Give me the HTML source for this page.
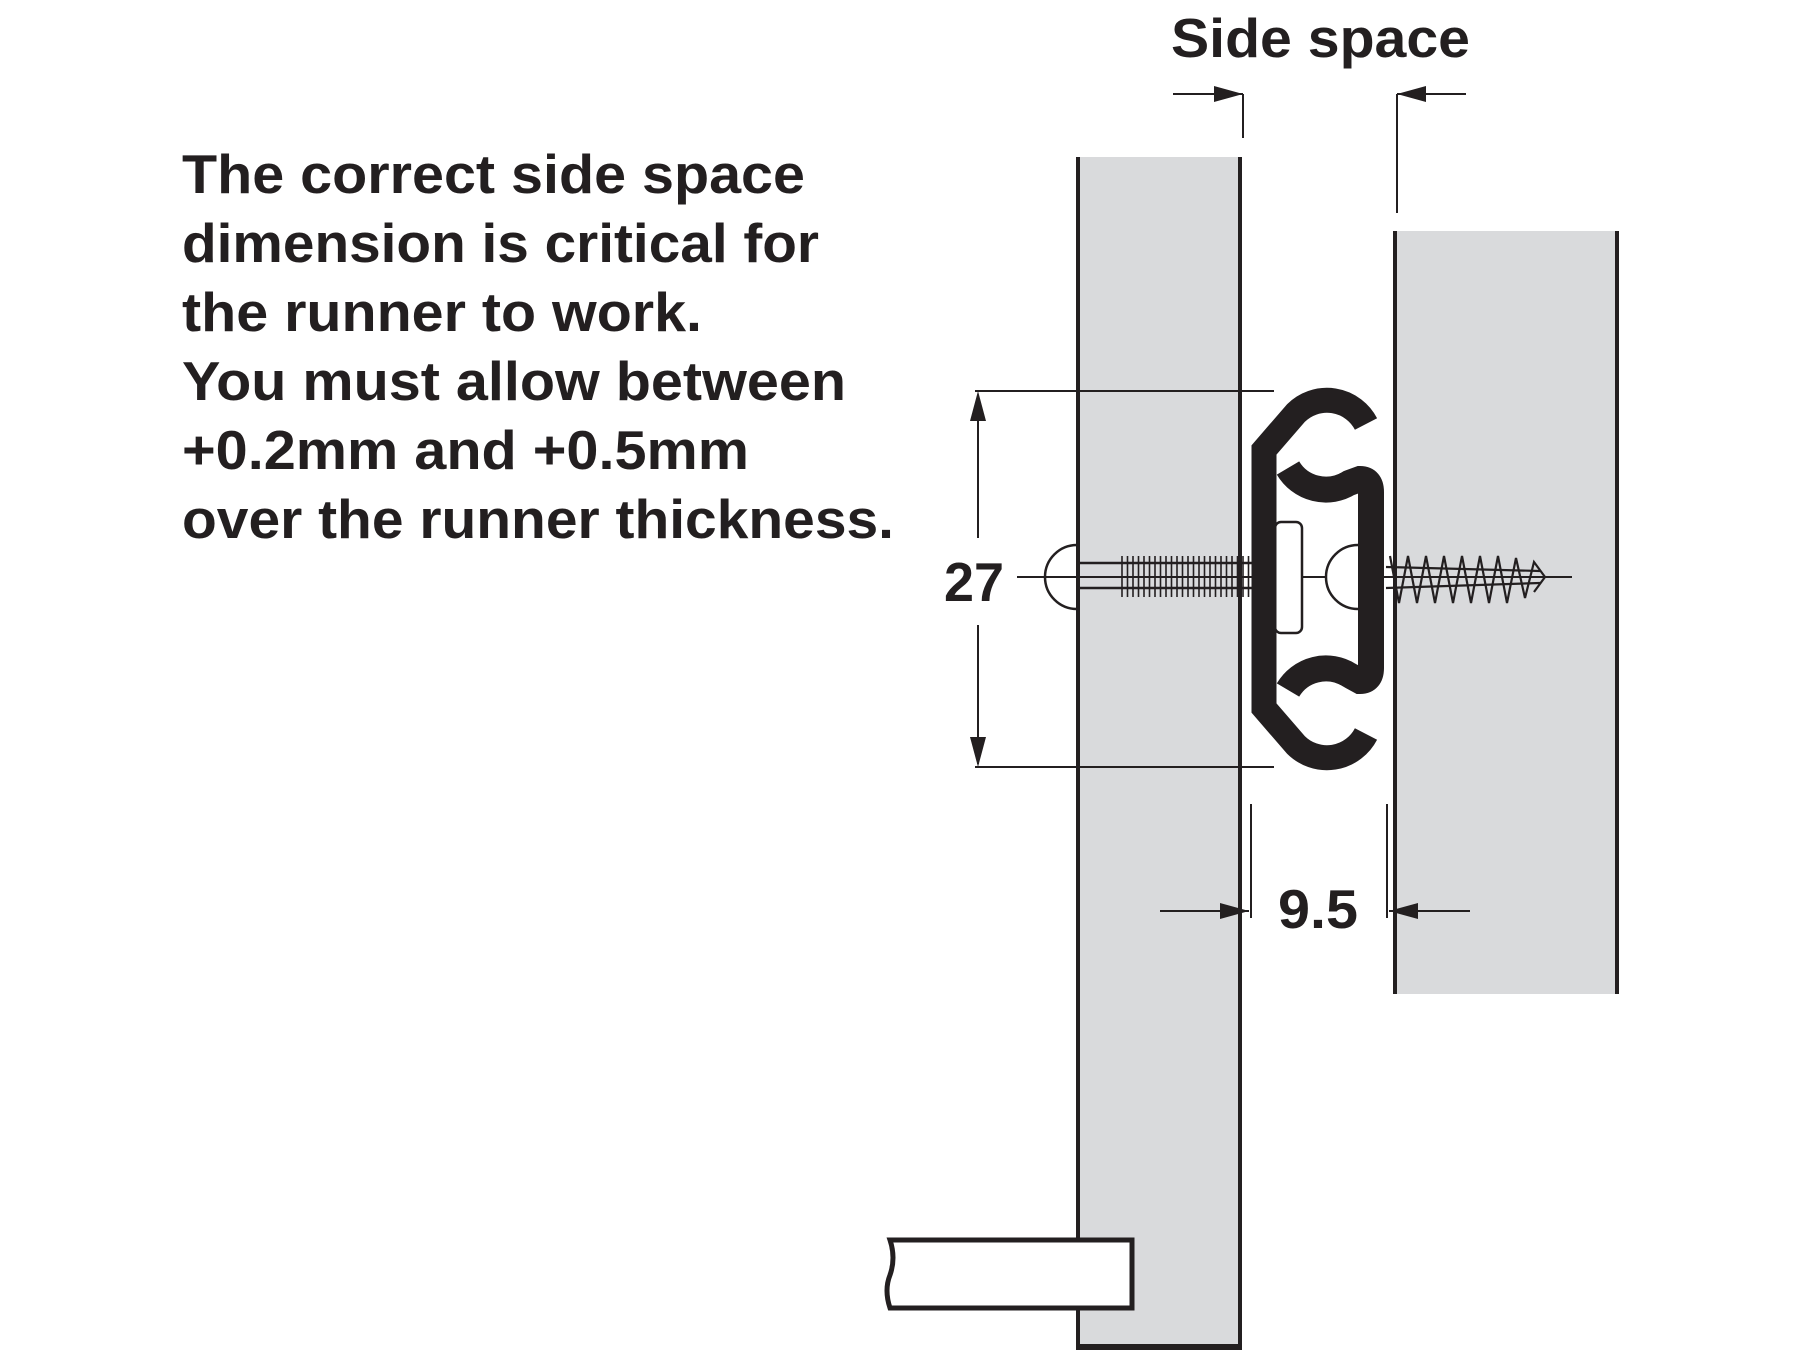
<!DOCTYPE html>
<html><head><meta charset="utf-8"><style>
html,body{margin:0;padding:0;background:#fff;}
svg{display:block;}
text{font-family:"Liberation Sans",Arial,sans-serif;font-weight:bold;fill:#231f20;}
</style></head><body>
<svg width="1800" height="1350" viewBox="0 0 1800 1350" xmlns="http://www.w3.org/2000/svg">
<g font-size="55">
<text x="182" y="193" textLength="623" lengthAdjust="spacingAndGlyphs">The correct side space</text>
<text x="182" y="262" textLength="637" lengthAdjust="spacingAndGlyphs">dimension is critical for</text>
<text x="182" y="331" textLength="520" lengthAdjust="spacingAndGlyphs">the runner to work.</text>
<text x="182" y="400" textLength="664" lengthAdjust="spacingAndGlyphs">You must allow between</text>
<text x="182" y="469" textLength="567" lengthAdjust="spacingAndGlyphs">+0.2mm and +0.5mm</text>
<text x="182" y="538" textLength="712" lengthAdjust="spacingAndGlyphs">over the runner thickness.</text>
<text x="1171" y="57" textLength="299" lengthAdjust="spacingAndGlyphs">Side space</text>
<text x="944" y="601" textLength="60" lengthAdjust="spacingAndGlyphs">27</text>
<text x="1278" y="928" textLength="80" lengthAdjust="spacingAndGlyphs">9.5</text>
</g>

<rect x="1077" y="157" width="163" height="1200" fill="#d9dadc"/>
<line x1="1078" y1="157" x2="1078" y2="1350" stroke="#231f20" stroke-width="4"/>
<line x1="1240" y1="157" x2="1240" y2="1350" stroke="#231f20" stroke-width="4"/>
<line x1="1076" y1="1347" x2="1242" y2="1347" stroke="#231f20" stroke-width="6"/>
<rect x="1395" y="231" width="222" height="763" fill="#d9dadc"/>
<line x1="1395" y1="231" x2="1395" y2="994" stroke="#231f20" stroke-width="4"/>
<line x1="1617" y1="231" x2="1617" y2="994" stroke="#231f20" stroke-width="4"/>

<path d="M890 1240 L1132 1240 L1132 1308 L890 1308 Q884 1290 890 1275 Q896 1258 890 1240 Z" fill="#fff" stroke="#231f20" stroke-width="5"/>

<g stroke="#231f20" stroke-width="2" fill="none">
<line x1="1173" y1="94" x2="1243" y2="94"/>
<line x1="1243" y1="94" x2="1243" y2="138"/>
<line x1="1397" y1="94" x2="1466" y2="94"/>
<line x1="1397" y1="94" x2="1397" y2="213"/>
<line x1="975" y1="391" x2="1274" y2="391"/>
<line x1="975" y1="767" x2="1274" y2="767"/>
<line x1="978" y1="395" x2="978" y2="538"/>
<line x1="978" y1="625" x2="978" y2="764"/>
<line x1="1251" y1="804" x2="1251" y2="918"/>
<line x1="1387" y1="804" x2="1387" y2="918"/>
<line x1="1160" y1="911" x2="1249" y2="911"/>
<line x1="1389" y1="911" x2="1470" y2="911"/>
<line x1="1017" y1="577" x2="1572" y2="577"/>
</g>
<g fill="#231f20">
<polygon points="1243,94 1214,86 1214,102"/>
<polygon points="1397,94 1426,86 1426,102"/>
<polygon points="978,391 970,421 986,421"/>
<polygon points="978,767 970,737 986,737"/>
<polygon points="1249,911 1220,903 1220,919"/>
<polygon points="1389,911 1418,903 1418,919"/>
</g>

<g stroke="#231f20" fill="none" stroke-width="2.5">
<path d="M1077 545 A32 32 0 0 0 1077 609"/>
<line x1="1077" y1="563" x2="1302" y2="563"/>
<line x1="1077" y1="588" x2="1302" y2="588"/>
</g>
<g stroke="#231f20" stroke-width="1.6">
<path d="M1122 556V597M1127.5 556V597M1133 556V597M1138.5 556V597M1144 556V597M1149.5 556V597M1155 556V597M1160.5 556V597M1166 556V597M1171.5 556V597M1177 556V597M1182.5 556V597M1188 556V597M1193.5 556V597M1199 556V597M1204.5 556V597M1210 556V597M1215.5 556V597M1221 556V597M1226.5 556V597M1232 556V597M1237.5 556V597M1243 556V597M1248.5 556V597M1254 556V597M1259.5 556V597M1265 556V597M1270.5 556V597M1276 556V597M1283 553V600"/>
</g>

<rect x="1275" y="522" width="27" height="111" rx="6" fill="#fff" stroke="#231f20" stroke-width="2.5"/>

<g stroke="#231f20" fill="none" stroke-width="25">
<path d="M1366 424 A44 44 0 0 0 1296 413 L1264 450 L1264 708 L1296 745 A44 44 0 0 0 1366 734"/>
</g>
<g stroke="#231f20" fill="none" stroke-width="26">
<path d="M1288 468 A44 44 0 0 0 1349 483 L1360 479 Q1371 479 1371 492 L1371 668 Q1371 681 1360 681 L1349 675 A44 44 0 0 0 1288 690"/>
</g>
<circle cx="1327" cy="445" r="31" fill="#fff"/>
<circle cx="1327" cy="713" r="31" fill="#fff"/>

<path d="M1358 545 A32 32 0 0 0 1358 609" stroke="#231f20" stroke-width="2.5" fill="#fff"/>
<g stroke="#231f20" fill="none" stroke-width="2.2">
<line x1="1386" y1="567" x2="1540" y2="571"/>
<line x1="1386" y1="588" x2="1540" y2="583"/>
<polyline points="1390,556 1399,603 1408,556 1417,603 1426,556 1435,603 1444,556 1453,603 1462,556 1471,603 1480,556 1489,603 1498,556 1507,603 1516,558 1525,598 1534,562 1545,577 1534,592"/>
</g>
</svg>
</body></html>
